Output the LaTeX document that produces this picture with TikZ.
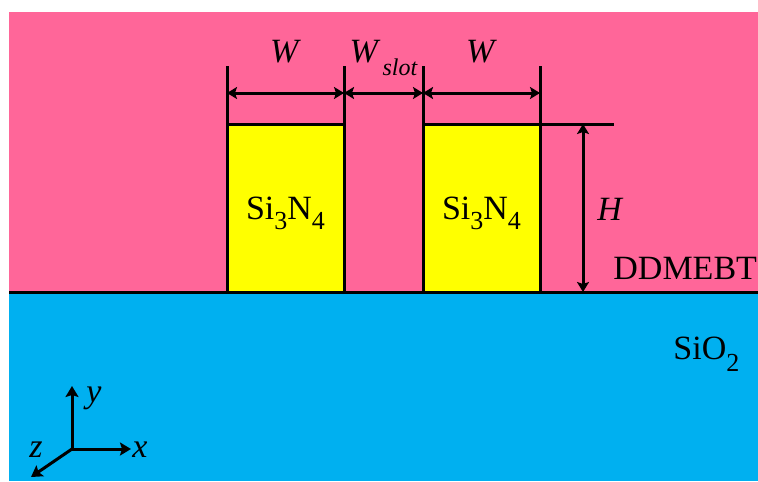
\documentclass[tikz,border=0pt]{standalone}
\usepackage{fontspec}
\setmainfont{Liberation Serif}
\usepackage{xcolor}
\usetikzlibrary{arrows.meta, positioning, calc}
\definecolor{CladPink}{HTML}{FF6699}
\definecolor{SubBlue}{HTML}{00B0F0}
\definecolor{CoreYellow}{HTML}{FFFF00}
\newcommand{\lowidx}[2][5pt]{\raisebox{-#1}{\fontsize{13}{13}\selectfont #2}}

\begin{document}
\begin{tikzpicture}[x=0.5pt, y=-0.5pt,
  corebox/.style={draw, fill=CoreYellow, line width=1.5pt, minimum width=58.5pt, minimum height=84pt, inner sep=0pt, outer sep=0pt, text depth=0pt, font=\fontsize{17}{20}\selectfont},
  lbl/.style={font=\fontsize{17}{20}\selectfont, inner sep=0pt, anchor=base west},
  extline/.style={line width=1.5pt},
  dimarrow/.style={line width=1.5pt, {Stealth[length=5pt, width=6pt, inset=1pt]}-{Stealth[length=5pt, width=6pt, inset=1pt]}},
  axis/.style={line width=1.5pt, -{Stealth[length=5.5pt, width=6.5pt, inset=1pt]}},
  ]
  \useasboundingbox (0,0) rectangle (758,481);
  % layers
  \fill[white] (0,0) rectangle (758,481);
  \fill[CladPink] (9,12) rectangle (758,292);
  \fill[SubBlue] (9,292) rectangle (758,481);
  \draw[extline] (9,292) -- (758,292);

  % slot waveguide cores
  \node[corebox] (coreL) at (285.5,208) {Si\lowidx{3}N\lowidx{4}};
  \node[corebox] (coreR) at (481.5,208) {Si\lowidx{3}N\lowidx{4}};

  % widths
  \foreach \c/\s [count=\i] in {coreL/west, coreL/east, coreR/west, coreR/east} {
    \draw[extline] (\c.north \s) -- ++(0,-58);
    \coordinate (d\i) at ($(\c.north \s)+(0,-31)$);
  }
  \draw[dimarrow] (d1) -- (d2);
  \draw[dimarrow] (d2) -- (d3);
  \draw[dimarrow] (d3) -- (d4);
  \node[lbl, anchor=base] (wLeft) at ($(d1)!0.5!(d2)+(0,-31)$) {\textit{W}};
  \node[lbl, anchor=base] (wSlot) at ($(d2)!0.5!(d3)+(0,-31)$) {\textit{W}\kern1pt\raisebox{-6.5pt}{\fontsize{12}{12}\selectfont\itshape slot}};
  \node[lbl, anchor=base] (wRight) at ($(d3)!0.5!(d4)+(0,-31)$) {\textit{W}};

  % height
  \coordinate (hExt) at ($(coreR.north east)+(74,0)$);
  \coordinate (hTop) at ($(coreR.north east)+(43,0)$);
  \coordinate (hBot) at ($(coreR.south east)+(43,0)$);
  \draw[extline] (coreR.north east) -- (hExt);
  \draw[dimarrow] (hTop) -- (hBot);
  \node[lbl] (hLbl) at (597,220) {\textit{H}};

  \node[lbl] (cladLbl) at (613,279) {DDMEBT};
  \node[lbl] (subLbl) at (673,359) {SiO\lowidx[6pt]{2}};

  % axes
  \coordinate (orig) at (72,449);
  \coordinate (yEnd) at (72,386);
  \coordinate (xEnd) at (131,449);
  \coordinate (zEnd) at (31,477);
  \draw[axis] (orig) -- (yEnd);
  \draw[axis] (orig) -- (xEnd);
  \draw[axis] (orig) -- (zEnd);
  \node[lbl] (yLbl) at (86,402) {\textit{y}};
  \node[lbl] (xLbl) at (132,457) {\textit{x}};
  \node[lbl] (zLbl) at (29,457) {\textit{z}};
\end{tikzpicture}
\end{document}
